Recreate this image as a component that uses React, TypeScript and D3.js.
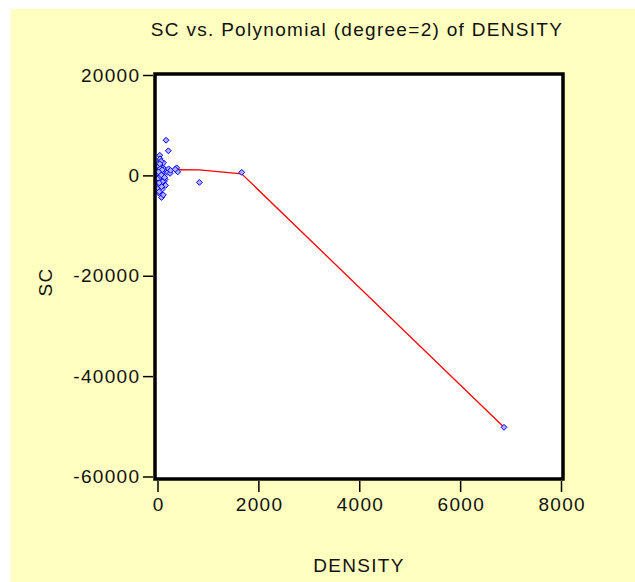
import React, { useEffect, useRef } from 'react'
import * as d3 from 'd3'

// scatter points (DENSITY, SC)
const densityVals = [170, 215, 45, 50, 30, 380, 400, 830, 1670, 6870, 80, 15, 10, 60, 100, 150,
  120, 20, 50, 80, 110, 140, 180, 200, 250, 30, 60, 90, 10, 40, 70, 130, 160, 30, 20, 90, 50,
  100, 220, 260, 10, 0, 5, 120, 70, 35, 115, 350, 100, 80,
  25, 55, 85, 40, 15, 65, 95, 45, 75, 20, 35, 140]
const scVals = [7000, 4900, 4000, 3300, 2500, 1500, 700, -1400, 600, -50200, -4400, -3000, -2500,
  -2000, -1500, -800, -300, 2500, 2000, 1800, 1500, 1200, 900, 600, 400, 1000, 500, 200, 0, -400,
  -1000, -1200, -2000, -1800, -3500, -2800, 300, 800, 1300, 1000, 1500, 500, -1200, 2500, 2800,
  -3250, -3900, 1200, -1250, -2250,
  1800, 1300, 600, -700, -600, -200, 1100, 2300, 100, 700, -1500, -400]

// fitted polynomial line vertices
const fitX = [0, 20, 60, 120, 200, 300, 380, 830, 1670, 6870]
const fitY = [450, 550, 700, 850, 1000, 1100, 1150, 1100, 300, -50200]

const xTicks = [0, 2000, 4000, 6000, 8000]
const yTicks = [20000, 0, -20000, -40000, -60000]

const W = 635
const H = 582
const font = 'Liberation Sans, Arial, sans-serif'
const fs = 19
const ls = 1.3

export default function App() {
  const ref = useRef<SVGSVGElement>(null)

  useEffect(() => {
    const svg = d3.select(ref.current)
    svg.selectAll('*').remove()

    // yellow background panel
    svg.append('rect')
      .attr('x', 11).attr('y', 9)
      .attr('width', W - 11).attr('height', H - 9)
      .attr('fill', '#ffffc0')

    const x = d3.scaleLinear().domain([0, 8000]).range([157.5, 561])
    const y = d3.scaleLinear().domain([-60000, 20000]).range([476.5, 75])

    // plot area
    svg.append('rect')
      .attr('x', 155).attr('y', 74)
      .attr('width', 408).attr('height', 405)
      .attr('fill', '#ffffff')

    // fitted line
    const line = d3.line<number>()
      .x((d) => x(d))
      .y((d, i) => y(fitY[i]))
    svg.append('path')
      .datum(fitX)
      .attr('d', line)
      .attr('fill', 'none')
      .attr('stroke', '#ff0000')
      .attr('stroke-width', 1.3)

    // points
    const sym = d3.symbol().type(d3.symbolDiamond2).size(22)
    svg.append('g')
      .selectAll('path')
      .data(densityVals)
      .enter()
      .append('path')
      .attr('d', sym)
      .attr('transform', (d, i) => `translate(${x(d)},${y(scVals[i])})`)
      .attr('fill', '#b0b0ff')
      .attr('stroke', '#0000ff')
      .attr('stroke-width', 1)

    // frame
    svg.append('rect')
      .attr('x', 155).attr('y', 74)
      .attr('width', 408).attr('height', 405)
      .attr('fill', 'none')
      .attr('stroke', '#000')
      .attr('stroke-width', 3.5)

    const fmt = (d: d3.NumberValue) => String(d)

    // x axis
    const gX = svg.append('g')
      .attr('transform', 'translate(0,481)')
      .call(d3.axisBottom(x).tickValues(xTicks).tickSize(11).tickPadding(6).tickFormat(fmt))
    gX.select('.domain').remove()
    gX.selectAll('.tick line').attr('stroke', '#000').attr('stroke-width', 1.5)
    gX.selectAll('.tick text')
      .attr('font-family', font).attr('font-size', fs).attr('fill', '#111')
      .attr('letter-spacing', ls).attr('dx', ls / 2)

    // y axis
    const gY = svg.append('g')
      .attr('transform', 'translate(153,0)')
      .call(d3.axisLeft(y).tickValues(yTicks).tickSize(10).tickPadding(4).tickFormat(fmt))
    gY.select('.domain').remove()
    gY.selectAll('.tick line').attr('stroke', '#000').attr('stroke-width', 1.5)
    gY.selectAll('.tick text')
      .attr('font-family', font).attr('font-size', fs).attr('fill', '#111')
      .attr('letter-spacing', ls).attr('dx', ls)

    // titles
    svg.append('text')
      .attr('x', 357).attr('y', 36)
      .attr('text-anchor', 'middle')
      .attr('font-family', font).attr('font-size', fs).attr('fill', '#111')
      .attr('letter-spacing', ls)
      .text('SC vs. Polynomial (degree=2) of DENSITY')

    svg.append('text')
      .attr('x', 359).attr('y', 572)
      .attr('text-anchor', 'middle')
      .attr('font-family', font).attr('font-size', fs).attr('fill', '#111')
      .attr('letter-spacing', ls)
      .text('DENSITY')

    svg.append('text')
      .attr('transform', 'translate(52,282) rotate(-90)')
      .attr('text-anchor', 'middle')
      .attr('font-family', font).attr('font-size', fs).attr('fill', '#111')
      .attr('letter-spacing', ls)
      .text('SC')
  }, [])

  return (
    <svg ref={ref} width={W} height={H}
      style={{ position: 'absolute', left: 0, top: 0, background: '#fff' }} />
  )
}
